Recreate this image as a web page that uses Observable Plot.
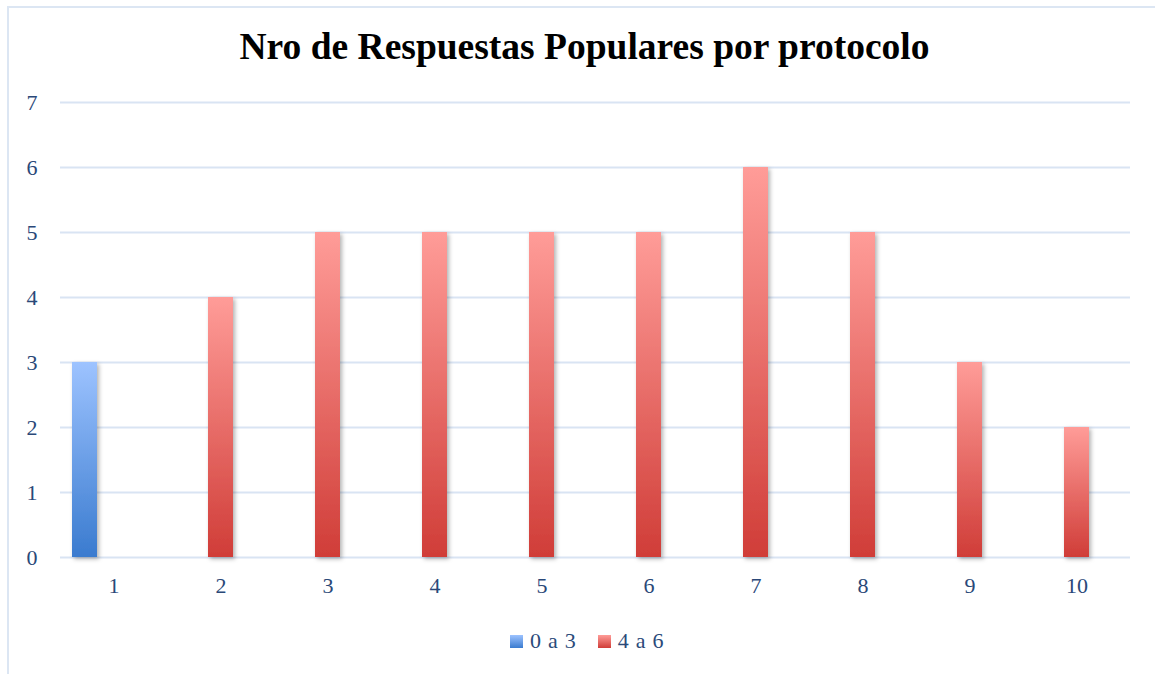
<!DOCTYPE html>
<html><head><meta charset="utf-8">
<script src="https://cdn.jsdelivr.net/npm/d3@7"></script>
<script src="https://cdn.jsdelivr.net/npm/@observablehq/plot@0.6"></script>
<style>
body{margin:0;background:#fff;}
#wrap{position:relative;width:1155px;height:674px;overflow:hidden;background:#fff;}
#frameL{position:absolute;left:7px;top:6px;width:2px;height:668px;background:#dce6f3;}
#frameT{position:absolute;left:7px;top:6px;width:1148px;height:2px;background:#dce6f3;}
#title{position:absolute;top:28px;left:7px;width:1155px;text-align:center;font:bold 37.5px "Liberation Serif";color:#000;line-height:37.5px;white-space:nowrap;}
#chart{position:absolute;left:0;top:80px;}
#legend{position:absolute;left:510px;top:630px;display:flex;align-items:center;font:22px "Liberation Serif";color:#2b4a7a;line-height:22px;word-spacing:1.5px;}
.sw{width:13px;height:13px;display:inline-block;margin-right:7px;}
.item{display:flex;align-items:center;margin-right:22px;}
</style>
</head><body>
<div id="wrap">
<div id="frameL"></div>
<div id="frameT"></div>
<div id="title">Nro de Respuestas Populares por protocolo</div>
<div id="chart"></div>
<div id="legend"></div>
</div>
<script>
const categories = [1, 2, 3, 4, 5, 6, 7, 8, 9, 10];
const seriesNames = ["0 a 3", "4 a 6"];
const values0a3 = [3, 0, 0, 0, 0, 0, 0, 0, 0, 0];
const values4a6 = [0, 4, 5, 5, 5, 5, 6, 5, 3, 2];
const yTicks = [0, 1, 2, 3, 4, 5, 6, 7];
const slots = ["0 a 3", "4 a 6", "(vacío)"];

const rows = [];
categories.forEach((c, i) => {
  rows.push({cat: c, series: seriesNames[0], value: values0a3[i]});
  rows.push({cat: c, series: seriesNames[1], value: values4a6[i]});
});

const textColor = "#2a4878";
const svg = Plot.plot({
  width: 1155,
  height: 540,
  marginLeft: 60,
  marginRight: 25,
  marginTop: 22,
  marginBottom: 63,
  style: {fontFamily: "Liberation Serif", fontSize: "22px", color: textColor, background: "transparent", overflow: "visible"},
  fx: {domain: categories, padding: 0, label: null},
  x: {domain: slots, paddingInner: 0.15, paddingOuter: 0.39, axis: null},
  y: {domain: [0, 7], label: null},
  marks: [
    Plot.gridY({ticks: yTicks, stroke: "#d9e4f3", strokeOpacity: 1, strokeWidth: 2}),
    Plot.axisY({ticks: yTicks, tickFormat: "d", tickSize: 0, tickPadding: 23, label: null}),
    Plot.axisFx({anchor: "bottom", tickSize: 0, tickPadding: 20, label: null}),
    Plot.barY(rows.filter(d => d.series === seriesNames[0] && d.value > 0), {fx: "cat", x: "series", y: "value", fill: "url(#gBlue)"}),
    Plot.barY(rows.filter(d => d.series === seriesNames[1] && d.value > 0), {fx: "cat", x: "series", y: "value", fill: "url(#gRed)"})
  ]
});

const defs = d3.select(svg).insert("defs", ":first-child");
function grad(id, top, bottom) {
  const g = defs.append("linearGradient").attr("id", id).attr("x1", 0).attr("y1", 0).attr("x2", 0).attr("y2", 1);
  g.append("stop").attr("offset", "0%").attr("stop-color", top);
  g.append("stop").attr("offset", "100%").attr("stop-color", bottom);
}
grad("gBlue", "#9dc3ff", "#3a7bcf");
grad("gRed", "#ff9c98", "#d03d38");
const f = defs.append("filter").attr("id", "shadow").attr("x", "-50%").attr("y", "-10%").attr("width", "200%").attr("height", "130%");
f.append("feDropShadow").attr("dx", 2).attr("dy", 2).attr("stdDeviation", 2).attr("flood-color", "#000").attr("flood-opacity", 0.3);
d3.select(svg).selectAll("g[aria-label='bar'] rect").attr("filter", "url(#shadow)");

document.getElementById("chart").appendChild(svg);

const legend = d3.select("#legend");
const legendGrad = {"0 a 3": "linear-gradient(#9dc3ff,#3a7bcf)", "4 a 6": "linear-gradient(#ff9c98,#d03d38)"};
seriesNames.forEach(s => {
  const it = legend.append("div").attr("class", "item");
  it.append("span").attr("class", "sw").style("background", legendGrad[s]);
  it.append("span").text(s);
});
</script>
</body></html>
